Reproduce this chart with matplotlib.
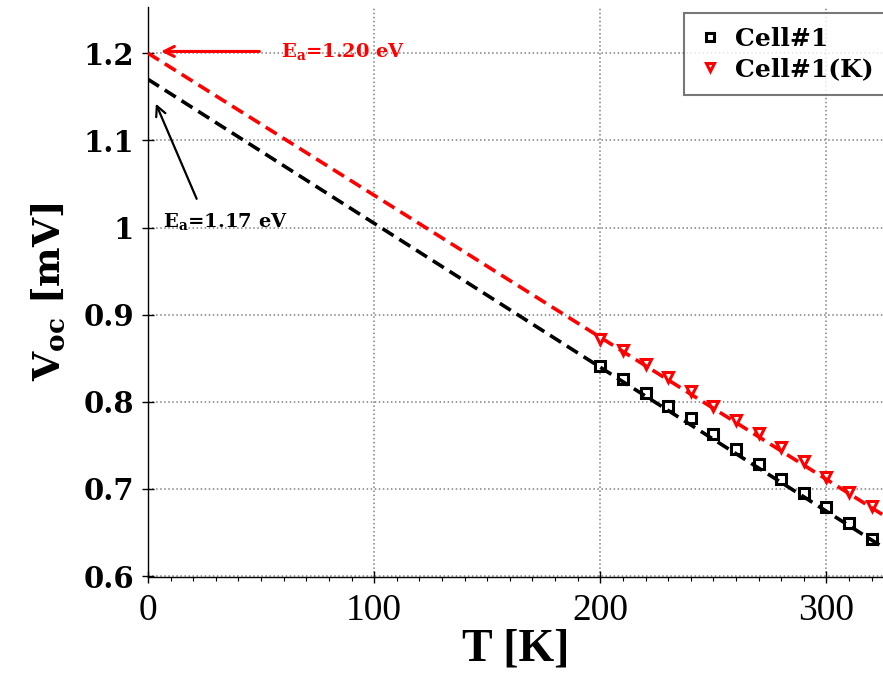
import matplotlib
matplotlib.use("Agg")
import matplotlib.pyplot as plt
import numpy as np

# ── datos ────────────────────────────────────────────────────────────────────
T = [200, 210, 220, 230, 240, 250, 260, 270, 280, 290, 300, 310, 320]
voc_cell1 = [0.841, 0.826, 0.810, 0.795, 0.781, 0.763, 0.746,
             0.729, 0.712, 0.695, 0.679, 0.661, 0.643]
voc_cell1_k = [0.872, 0.859, 0.843, 0.828, 0.812, 0.795, 0.779,
               0.764, 0.748, 0.732, 0.714, 0.697, 0.680]
# ajuste lineal V = Ea + m·T
ea = {"Cell#1": 1.17, "Cell#1(K)": 1.20}
slope = {"Cell#1": -0.001652, "Cell#1(K)": -0.00163}

XMAX, YMIN, YMAX = 325, 0.599, 1.253
RED = "#ff0000"

plt.rcParams.update({
    "font.family": "DejaVu Serif",
    "font.weight": "bold",
    "mathtext.fontset": "dejavuserif",
})

fig = plt.figure(figsize=(8.83, 6.8), dpi=100)
ax = fig.add_axes([148 / 883, 103 / 680, 735 / 883, 570 / 680])

t_fit = np.array([0.0, XMAX])
series = [
    ("Cell#1", voc_cell1, "black", "s", 6.5),
    ("Cell#1(K)", voc_cell1_k, RED, "v", 7.5),
]
for name, vals, col, mk, ms in series:
    ax.plot(T, vals, mk, ls="none", mfc="white", mec=col, mew=2.2, ms=ms,
            label=name, zorder=3)
    ax.plot(t_fit, ea[name] + slope[name] * t_fit, color=col, lw=2.6,
            dashes=(3.6, 1.9), zorder=4)

# ── anotaciones de Ea ────────────────────────────────────────────────────────
ax.annotate("", xy=(4.5, 1.202), xytext=(50.5, 1.202),
            arrowprops=dict(arrowstyle="->", color=RED, lw=2.2,
                            mutation_scale=18), zorder=5)
ax.text(59, 1.202, r"$\mathbf{E_a}$=1.20 eV", color=RED, fontsize=14,
        fontweight="bold", va="center", ha="left")
ax.annotate("", xy=(3.0, 1.145), xytext=(22.0, 1.030),
            arrowprops=dict(arrowstyle="->", color="black", lw=1.6,
                            mutation_scale=18), zorder=5)
ax.text(6.5, 1.007, r"$\mathbf{E_a}$=1.17 eV", color="black", fontsize=14,
        fontweight="bold", va="center", ha="left")

# ── ejes ─────────────────────────────────────────────────────────────────────
ax.set_xlim(0, XMAX)
ax.set_ylim(YMIN, YMAX)
ax.set_xticks([0, 100, 200, 300])
ax.set_xticks(np.arange(0, XMAX, 10), minor=True)
ax.set_yticks(np.arange(0.6, 1.21, 0.1))
ax.set_yticklabels(["0.6", "0.7", "0.8", "0.9", "1", "1.1", "1.2"])
ax.grid(True, which="major", color="0.5", ls=":", lw=1.1)
for s in ("top", "right"):
    ax.spines[s].set_visible(False)
for s in ("left", "bottom"):
    ax.spines[s].set_linewidth(1.0)
ax.tick_params(axis="y", which="major", direction="inout", length=8,
               width=1.0, labelsize=21, pad=6)
ax.tick_params(axis="x", which="major", direction="inout", length=8,
               width=1.0, labelsize=27, pad=8)
ax.tick_params(axis="x", which="minor", direction="out", length=3, width=0.8)
for lab in ax.get_xticklabels():
    lab.set_fontfamily("Liberation Serif")
    lab.set_fontweight("normal")
for lab in ax.get_yticklabels():
    lab.set_fontweight("bold")

ax.set_xlabel("T [K]", fontsize=33, fontweight="bold",
              fontfamily="Liberation Serif", labelpad=0)
ax.set_ylabel(r"$\mathbf{V_{oc}}$ [mV]", fontsize=27, fontweight="bold")
ax.yaxis.set_label_coords(-0.108, 0.5)

leg = ax.legend(loc="upper left", bbox_to_anchor=(684 / 883, 667 / 680),
                bbox_transform=fig.transFigure, borderaxespad=0,
                fontsize=18, frameon=True, fancybox=False, edgecolor="#555555",
                handletextpad=0.5, handlelength=1.0, borderpad=0.55,
                labelspacing=0.25, markerscale=0.85)
leg.get_frame().set_linewidth(1.5)
for txt in leg.get_texts():
    txt.set_fontweight("bold")

fig.savefig("out.png", dpi=100)
